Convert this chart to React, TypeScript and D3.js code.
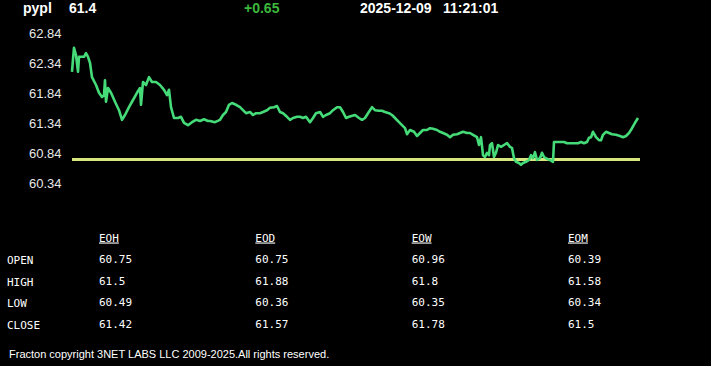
import React from "react";
import { scaleLinear, line } from "d3";

// intraday quote, time in minutes from the start of the window
const times = [
  0, 1, 2, 4, 6, 7, 9, 12, 14, 16, 18, 20, 24, 27, 30, 32, 33, 34, 36, 39,
  43, 47, 50, 53, 57, 61, 65, 68, 69, 71, 74, 77, 80, 84, 88, 92, 95, 97, 99, 102,
  106, 109, 112, 116, 120, 124, 128, 132, 136, 138, 143, 148, 151, 154, 157, 160, 164, 168, 171, 174,
  178, 181, 184, 188, 191, 195, 198, 202, 205, 208, 211, 215, 218, 221, 225, 228, 231, 234, 238, 241,
  244, 248, 251, 254, 258, 261, 265, 268, 271, 274, 277, 283, 287, 290, 293, 296, 300, 303, 307, 310,
  313, 317, 320, 323, 327, 330, 333, 335, 338, 342, 345, 348, 351, 355, 358, 361, 365, 368, 371, 375,
  378, 381, 385, 388, 391, 395, 398, 401, 405, 407, 409, 411, 413, 415, 417, 418, 420, 422, 424, 426,
  429, 432, 435, 438, 440, 442, 444, 447, 449, 451, 454, 457, 459, 461, 463, 465, 468, 470, 472, 475,
  478, 481, 482, 485, 488, 492, 495, 499, 502, 506, 509, 512, 515, 517, 519, 521, 524, 527, 529, 531,
  534, 537, 540, 544, 548, 551, 554, 557, 560, 563, 566,
];
const prices = [
  62.21, 62.42, 62.61, 62.49, 62.21, 62.46, 62.46, 62.46, 62.52, 62.46, 62.36, 62.12, 61.99, 61.86, 61.79, 61.82, 62.07, 61.71, 61.94, 61.86,
  61.71, 61.57, 61.41, 61.49, 61.62, 61.74, 61.86, 61.94, 61.66, 62.04, 61.99, 62.12, 62.04, 62.04, 61.99, 61.91, 61.82, 61.91, 61.62, 61.44,
  61.44, 61.46, 61.36, 61.32, 61.37, 61.41, 61.39, 61.42, 61.39, 61.39, 61.37, 61.41, 61.49, 61.54, 61.66, 61.69, 61.66, 61.62, 61.57, 61.52,
  61.54, 61.49, 61.52, 61.52, 61.54, 61.57, 61.61, 61.62, 61.64, 61.54, 61.52, 61.46, 61.41, 61.44, 61.46, 61.46, 61.44, 61.46, 61.37, 61.44,
  61.52, 61.54, 61.46, 61.49, 61.52, 61.57, 61.62, 61.62, 61.54, 61.44, 61.46, 61.49, 61.44, 61.41, 61.44, 61.52, 61.62, 61.57, 61.56, 61.56,
  61.54, 61.52, 61.49, 61.44, 61.37, 61.32, 61.27, 61.17, 61.24, 61.21, 61.14, 61.19, 61.24, 61.24, 61.27, 61.26, 61.24, 61.21, 61.19, 61.16,
  61.12, 61.16, 61.17, 61.19, 61.21, 61.19, 61.19, 61.16, 61.12, 60.99, 61.12, 60.82, 60.79, 60.86, 60.82, 60.99, 61.02, 60.79, 60.86, 60.99,
  60.96, 60.99, 61.02, 60.96, 60.94, 60.77, 60.71, 60.69, 60.66, 60.69, 60.71, 60.74, 60.82, 60.77, 60.87, 60.74, 60.77, 60.86, 60.79, 60.76,
  60.74, 60.71, 61.04, 61.04, 61.04, 61.04, 61.02, 61.02, 61.02, 61.02, 61.04, 61.02, 61.04, 61.11, 61.12, 61.21, 61.12, 61.07, 61.07, 61.16,
  61.21, 61.19, 61.17, 61.16, 61.14, 61.12, 61.14, 61.19, 61.27, 61.36, 61.44,
];
const prevClose = 60.75;
const windowEnd = 568;
const yTicks = [62.84, 62.34, 61.84, 61.34, 60.84, 60.34];

const symbol = "pypl";
const last = "61.4";
const change = "+0.65";
const date = "2025-12-09";
const clock = "11:21:01";

const periods = ["EOH", "EOD", "EOW", "EOM"];
const rowLabels = ["OPEN", "HIGH", "LOW", "CLOSE"];
const openVals = ["60.75", "60.75", "60.96", "60.39"];
const highVals = ["61.5", "61.88", "61.8", "61.58"];
const lowVals = ["60.49", "60.36", "60.35", "60.34"];
const closeVals = ["61.42", "61.57", "61.78", "61.5"];

const footer = "Fracton copyright 3NET LABS LLC 2009-2025.All rights reserved.";

export default function App() {
  const width = 711;
  const height = 366;

  const xScale = scaleLinear().domain([0, windowEnd]).range([72, 640]);
  const yScale = scaleLinear().domain([60.34, 62.84]).range([184, 34]);

  const data = times.map((t, i) => ({ t, p: prices[i] }));
  const path = line<{ t: number; p: number }>()
    .x(d => xScale(d.t))
    .y(d => yScale(d.p));

  const tableRows = [openVals, highVals, lowVals, closeVals];
  const colX = scaleLinear().domain([0, 3]).range([99, 568]);
  const rowY = scaleLinear().domain([0, 3]).range([264, 328.5]);

  const sans = "Arial, 'Liberation Sans', sans-serif";
  const mono = "Consolas, 'DejaVu Sans Mono', monospace";

  return (
    <div style={{ position: "fixed", left: 0, top: 0, width, height, background: "#000" }}>
      <svg width={width} height={height} style={{ display: "block" }}>
        <rect width={width} height={height} fill="#000" />

        {/* header */}
        <g style={{ fontFamily: sans, fontSize: "14px", fontWeight: "bold" }}>
          <text x={23} y={13} fill="#fff">{symbol}</text>
          <text x={69} y={13} fill="#fff">{last}</text>
          <text x={244} y={13} fill="#3cb83c">{change}</text>
          <text x={360} y={13} fill="#fff">{date}</text>
          <text x={443} y={13} fill="#fff">{clock}</text>
        </g>

        {/* y labels */}
        {yTicks.map(v => (
          <g key={v}>
            <text x={29} y={yScale(v)} dy="0.3em" fill="#e8e8e8"
              style={{ fontFamily: sans, fontSize: "13px" }}>
              {v.toFixed(2)}
            </text>
            <line x1={59} x2={61} y1={yScale(v)} y2={yScale(v)} stroke="#6b6b3a" strokeWidth={1} />
          </g>
        ))}

        {/* previous close */}
        <line x1={xScale(0)} x2={xScale(windowEnd)} y1={yScale(prevClose)} y2={yScale(prevClose)}
          stroke="#d8e67e" strokeWidth={3} />

        {/* price */}
        <path d={path(data) ?? ""} fill="none" stroke="#45db78" strokeWidth={2.6} strokeLinejoin="round" />

        {/* table */}
        <g style={{ fontFamily: mono, fontSize: "11px" }} fill="#fff">
          {periods.map((p, i) => (
            <text key={p} x={colX(i)} y={241.5} textDecoration="underline">{p}</text>
          ))}
          {rowLabels.map((r, j) => (
            <g key={r}>
              <text x={7} y={rowY(j)}>{r}</text>
              {tableRows[j].map((v, i) => (
                <text key={i} x={colX(i)} y={rowY(j) - 1}>{v}</text>
              ))}
            </g>
          ))}
        </g>

        <text x={9} y={358} fill="#fff" style={{ fontFamily: sans, fontSize: "11px" }}>{footer}</text>
      </svg>
    </div>
  );
}
